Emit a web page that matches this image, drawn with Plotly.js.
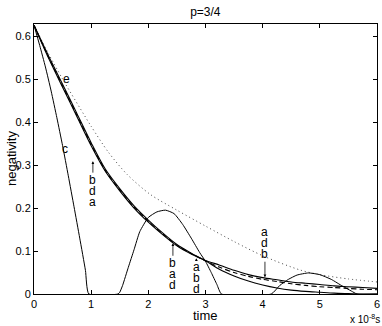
<!DOCTYPE html>
<html>
<head>
<meta charset="utf-8">
<script src="https://cdn.plot.ly/plotly-3.0.1.min.js"></script>
<style>
  html, body { margin: 0; padding: 0; background: #fff; }
  #plotDiv { width: 382px; height: 326px; }
</style>
</head>
<body>
<div id="plotDiv"></div>
<script>
// time in units of 1e-8 s
var tBand = [0, 0.25, 0.5, 0.75, 1, 1.25, 1.5, 1.75, 2, 2.25, 2.5, 2.75, 3,
             3.25, 3.5, 3.75, 4, 4.25, 4.5, 4.75, 5, 5.25, 5.5, 5.75, 6];
var aVals = [0.625, 0.55, 0.481, 0.413, 0.345, 0.285, 0.24, 0.2, 0.167, 0.138, 0.112, 0.093, 0.078,
             0.067, 0.055, 0.045, 0.038, 0.033, 0.028, 0.025, 0.022, 0.019, 0.017, 0.015, 0.013];
var bVals = [0.625, 0.555, 0.488, 0.42, 0.352, 0.29, 0.245, 0.205, 0.172, 0.142, 0.115, 0.095, 0.077,
             0.057, 0.042, 0.03, 0.021, 0.014, 0.009, 0.006, 0.004, 0.002, 0.001, 0, 0];
var dVals = [0.625, 0.552, 0.484, 0.416, 0.348, 0.287, 0.242, 0.202, 0.169, 0.14, 0.113, 0.094, 0.077,
             0.062, 0.05, 0.041, 0.034, 0.029, 0.024, 0.02, 0.017, 0.015, 0.013, 0.011, 0.01];

var tC = [0, 0.1, 0.2, 0.3, 0.4, 0.5, 0.6, 0.7, 0.8, 0.9, 0.96, 1.47, 1.5, 1.55, 1.65, 1.75, 1.85,
          2.0, 2.15, 2.3, 2.45, 2.6, 2.75, 2.9, 3.0, 3.1, 3.2, 3.28, 4.15, 4.3, 4.45, 4.6, 4.8,
          5.0, 5.2, 5.4, 5.55, 5.65, 6];
var cVals = [0.625, 0.578, 0.528, 0.472, 0.41, 0.345, 0.275, 0.203, 0.13, 0.055, 0, 0, 0.004, 0.02,
             0.062, 0.103, 0.145, 0.178, 0.191, 0.195, 0.187, 0.162, 0.13, 0.096, 0.076, 0.05, 0.022,
             0, 0, 0.02, 0.034, 0.044, 0.049, 0.045, 0.034, 0.018, 0.007, 0, 0];

var tE = [0, 0.25, 0.5, 0.87, 1.0, 1.3, 1.63, 2.03, 2.5, 3, 3.5, 4, 4.65, 5, 5.5, 6];
var eVals = [0.625, 0.56, 0.5, 0.418, 0.39, 0.33, 0.278, 0.232, 0.195, 0.158, 0.122, 0.089,
             0.056, 0.045, 0.035, 0.028];

// arrow labels
var labelT = [1.03, 2.43, 2.84, 4.04];
var labelV = [0.309, 0.118, 0.083, 0.039];
var labelText = ['bda', 'bad', 'abd', 'adb'];
var labelDir = [1, 1, 1, -1];     // 1: letters below the arrow, -1: above
var labelGap = [19, 20, 9, 23];   // px from arrow tip to nearest letter

var curveNames = ['c', 'e'];
var curveNameT = [0.55, 0.56];
var curveNameV = [0.337, 0.5];

var xTicks = [0, 1, 2, 3, 4, 5, 6];
var yTicks = [0, 0.1, 0.2, 0.3, 0.4, 0.5, 0.6];

var font = 'Liberation Sans, Arial, Helvetica, sans-serif';

var traceA = {x: tBand, y: aVals, type: 'scatter', mode: 'lines',
  line: {color: '#000', width: 1.1, shape: 'spline', smoothing: 0.8}};
var traceB = {x: tBand, y: bVals, type: 'scatter', mode: 'lines',
  line: {color: '#000', width: 1.1, shape: 'spline', smoothing: 0.8}};
var traceD = {x: tBand, y: dVals, type: 'scatter', mode: 'lines',
  line: {color: '#000', width: 1.1, dash: '5px,3px', shape: 'spline', smoothing: 0.8}};
var traceC = {x: tC, y: cVals, type: 'scatter', mode: 'lines',
  line: {color: '#000', width: 1, shape: 'spline', smoothing: 0.5}};
var traceE = {x: tE, y: eVals, type: 'scatter', mode: 'lines',
  line: {color: '#444', width: 1, dash: '1px,3px', shape: 'spline', smoothing: 0.8}};

var annotations = [];

for (var i = 0; i < labelT.length; i++) {
  var dir = labelDir[i];
  annotations.push({
    x: labelT[i], y: labelV[i], xref: 'x', yref: 'y', text: '',
    showarrow: true, arrowhead: 2, arrowsize: 0.7, arrowwidth: 0.8, arrowcolor: '#000',
    ax: 0, ay: dir * (labelGap[i] - 6), standoff: 0
  });
  var letters = labelText[i].split('');
  for (var j = 0; j < letters.length; j++) {
    var k = dir > 0 ? j : (letters.length - 1 - j);
    annotations.push({
      x: labelT[i], y: labelV[i], xref: 'x', yref: 'y', text: letters[j],
      showarrow: false, xanchor: 'center', yanchor: 'middle',
      yshift: -dir * (labelGap[i] + 11 * k),
      font: {family: font, size: 12, color: '#000'}
    });
  }
}

for (var n = 0; n < curveNames.length; n++) {
  annotations.push({
    x: curveNameT[n], y: curveNameV[n], xref: 'x', yref: 'y', text: curveNames[n],
    showarrow: false, xanchor: 'center', yanchor: 'middle',
    font: {family: font, size: 12, color: '#000'}
  });
}

// axis titles and exponent
annotations.push({
  xref: 'paper', yref: 'paper', x: 0.5, y: 0, yshift: -21, text: 'time',
  showarrow: false, xanchor: 'center', yanchor: 'middle',
  font: {family: font, size: 13, color: '#000'}
});
annotations.push({
  xref: 'paper', yref: 'paper', x: 0, y: 0.5, xshift: -23, text: 'negativity', textangle: -90,
  showarrow: false, xanchor: 'center', yanchor: 'middle',
  font: {family: font, size: 13, color: '#000'}
});
annotations.push({
  xref: 'paper', yref: 'paper', x: 1, y: 0, xshift: 5, yshift: -25,
  text: 'x 10<sup>-8</sup>s', showarrow: false, xanchor: 'right', yanchor: 'middle',
  font: {family: font, size: 10, color: '#000'}
});

var layout = {
  width: 382,
  height: 326,
  title: {text: 'p=3/4', font: {family: font, size: 12, color: '#000'},
          x: 0.5375, xanchor: 'center', y: 0.963, yanchor: 'middle'},
  showlegend: false,
  paper_bgcolor: '#fff',
  plot_bgcolor: '#fff',
  margin: {l: 34, r: 5, t: 24, b: 32, pad: 0},
  xaxis: {
    range: [0, 6], tickvals: xTicks, ticks: 'inside', ticklen: 4, tickcolor: '#000',
    showline: true, linecolor: '#000', linewidth: 1, mirror: 'ticks',
    showgrid: false, zeroline: false,
    tickfont: {family: font, size: 11, color: '#000'}
  },
  yaxis: {
    range: [0, 0.628], tickvals: yTicks, ticks: 'inside', ticklen: 4, tickcolor: '#000',
    showline: true, linecolor: '#000', linewidth: 1, mirror: 'ticks',
    showgrid: false, zeroline: false,
    tickfont: {family: font, size: 11, color: '#000'}
  },
  annotations: annotations
};

Plotly.newPlot('plotDiv', [traceE, traceC, traceB, traceA, traceD], layout,
  {staticPlot: true, displayModeBar: false});
</script>
</body>
</html>
